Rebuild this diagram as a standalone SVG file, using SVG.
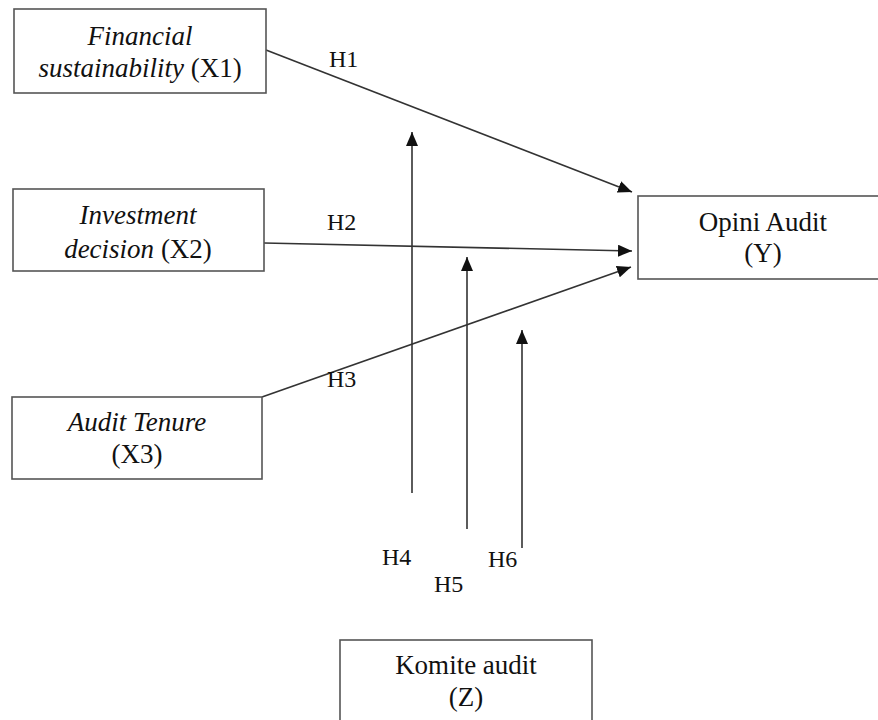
<svg xmlns="http://www.w3.org/2000/svg" width="878" height="720" viewBox="0 0 878 720">
  <defs>
    <style>
      .box { fill: #ffffff; stroke: #555555; stroke-width: 1.6; }
      .t { font-family: "Liberation Serif", "Times New Roman", serif; font-size: 27px; fill: #111111; text-anchor: middle; }
      .i { font-style: italic; }
      .h { font-family: "Liberation Serif", "Times New Roman", serif; font-size: 24px; fill: #111111; }
      .c { fill: none; stroke: #333333; stroke-width: 1.6; marker-end: url(#arr); }
    </style>
    <marker id="arr" markerUnits="userSpaceOnUse" markerWidth="14" markerHeight="12" refX="14" refY="6" orient="auto">
      <path d="M0,0 L14,6 L0,12 Z" fill="#111111"/>
    </marker>
  </defs>
  <rect width="878" height="720" fill="#ffffff"/>

  <g id="connectors">
    <path class="c" d="M266,50 L632,192"/>
    <path class="c" d="M264,243 L632,251"/>
    <path class="c" d="M262,397 L631,267"/>
    <path class="c" d="M412,493 L412,132"/>
    <path class="c" d="M467,529 L467,257"/>
    <path class="c" d="M522,548 L522,330"/>
  </g>

  <g id="labels">
    <text class="h" x="329" y="67">H1</text>
    <text class="h" x="327" y="230">H2</text>
    <text class="h" x="327" y="387">H3</text>
    <text class="h" x="382" y="565">H4</text>
    <text class="h" x="434" y="592">H5</text>
    <text class="h" x="488" y="567">H6</text>
  </g>

  <g id="x1">
    <rect class="box" x="14" y="9" width="252" height="84"/>
    <text class="t i" x="140" y="45">Financial</text>
    <text class="t" x="140" y="77"><tspan class="i">sustainability</tspan> (X1)</text>
  </g>

  <g id="x2">
    <rect class="box" x="13" y="189" width="251" height="82"/>
    <text class="t i" x="138" y="224">Investment</text>
    <text class="t" x="138" y="258"><tspan class="i">decision</tspan> (X2)</text>
  </g>

  <g id="x3">
    <rect class="box" x="12" y="397" width="250" height="82"/>
    <text class="t i" x="137" y="431">Audit Tenure</text>
    <text class="t" x="137" y="463">(X3)</text>
  </g>

  <g id="y">
    <rect class="box" x="638" y="196" width="250" height="83"/>
    <text class="t" x="763" y="231">Opini Audit</text>
    <text class="t" x="763" y="262">(Y)</text>
  </g>

  <g id="z">
    <rect class="box" x="340" y="640" width="252" height="100"/>
    <text class="t" x="466" y="674">Komite audit</text>
    <text class="t" x="466" y="706">(Z)</text>
  </g>
</svg>
